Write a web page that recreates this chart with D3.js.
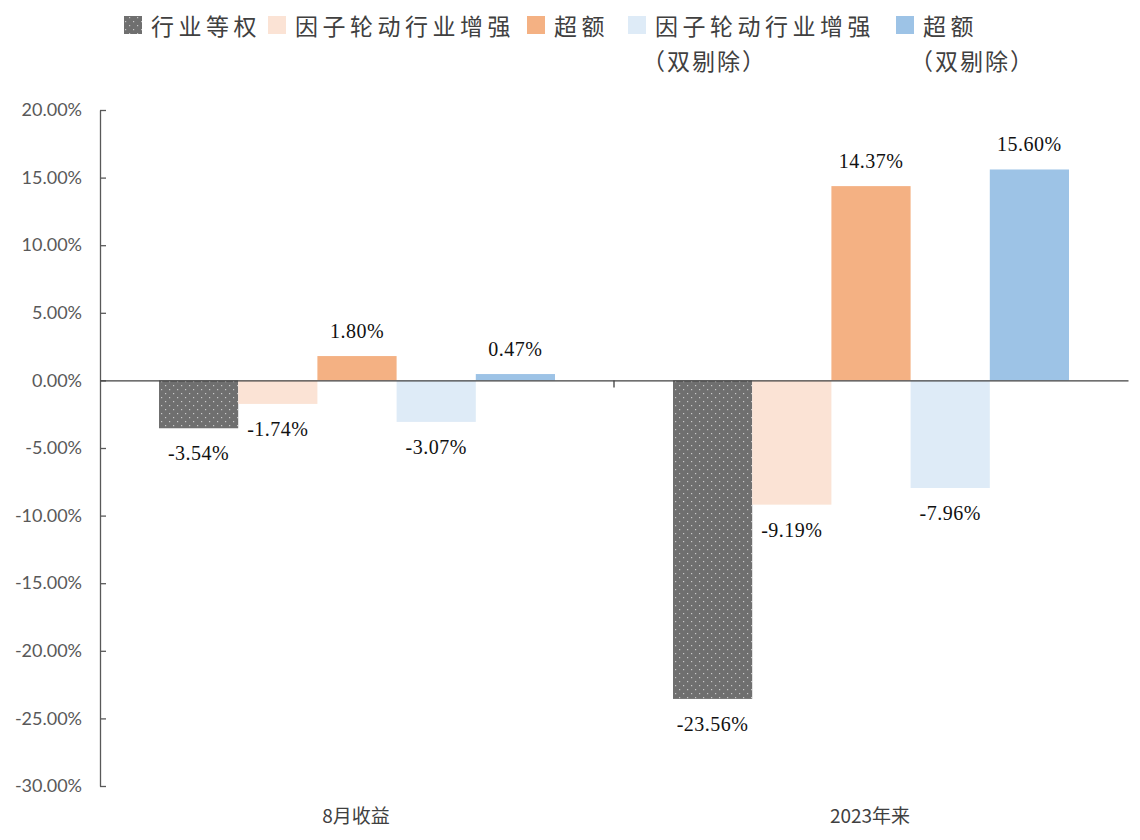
<!DOCTYPE html>
<html><head><meta charset="utf-8">
<script src="https://cdn.jsdelivr.net/npm/d3@7"></script>
<style>body{margin:0;background:#fff;}</style>
</head><body>
<svg id="c" width="1140" height="840"></svg>
<script>
const categories = ["8月收益", "2023年来"];
const seriesNames = ["行业等权", "因子轮动行业增强", "超额", "因子轮动行业增强\n(双剔除)", "超额\n(双剔除)"];
const seriesKeys = ["s1","s2","s3","s4","s5"];
const values = {
  s1: [-3.54, -23.56],
  s2: [-1.74, -9.19],
  s3: [1.80, 14.37],
  s4: [-3.07, -7.96],
  s5: [0.47, 15.60]
};
const colors = ["#6f6f6f", "#fbe3d5", "#f4b183", "#deebf7", "#9dc3e6"];
const yTicks = [20, 15, 10, 5, 0, -5, -10, -15, -20, -25, -30];

(function(){
const svg = d3.select("#c");
const defs = svg.append("defs");
const pat = defs.append("pattern").attr("id","dots").attr("patternUnits","userSpaceOnUse")
  .attr("width",8).attr("height",8);
pat.append("rect").attr("width",8).attr("height",8).attr("fill","#6f6f6f");
pat.append("rect").attr("x",1).attr("y",1).attr("width",1.2).attr("height",1.2).attr("fill","#c8c8c8");
pat.append("rect").attr("x",5).attr("y",5).attr("width",1.2).attr("height",1.2).attr("fill","#c8c8c8");

const mLeft = 100, mRight = 1128, mTop = 110, mBottom = 786;
const y = d3.scaleLinear().domain([-30, 20]).range([mBottom, mTop]);
const x0 = d3.scaleBand().domain(categories).range([mLeft, mRight]).padding(0);
const x1 = d3.scaleBand().domain(seriesKeys).range([0, x0.bandwidth()]).paddingInner(0).paddingOuter(0.745);

// y axis
const yAxis = d3.axisLeft(y).tickValues(yTicks).tickSize(0).tickPadding(18)
  .tickFormat(d => d.toFixed(2) + "%");
const gy = svg.append("g").attr("transform", `translate(${mLeft},0)`).call(yAxis);
gy.select(".domain").attr("stroke", "#595959").attr("stroke-width", 1.3);
gy.selectAll("text").attr("font-family", "Lato, 'Open Sans', sans-serif").attr("font-size", 18).attr("fill", "#595959");
gy.selectAll(".tick").append("line").attr("x1", 0).attr("x2", 6).attr("stroke", "#595959").attr("stroke-width", 1.3);

// bars
const groups = svg.append("g").selectAll("g").data(categories).join("g")
  .attr("transform", d => `translate(${x0(d)},0)`);
seriesKeys.forEach((k, si) => {
  groups.append("rect")
    .attr("x", x1(k))
    .attr("width", x1.bandwidth())
    .attr("y", (d, i) => y(Math.max(0, values[k][i])))
    .attr("height", (d, i) => Math.abs(y(values[k][i]) - y(0)))
    .attr("fill", si === 0 ? "url(#dots)" : colors[si]);
});
// labels
seriesKeys.forEach((k, si) => {
  groups.append("text")
    .attr("x", x1(k) + x1.bandwidth() / 2)
    .attr("y", (d, i) => values[k][i] >= 0 ? y(values[k][i]) - 18 : y(values[k][i]) + 32)
    .attr("text-anchor", "middle")
    .attr("font-family", "'Liberation Serif', 'Times New Roman', serif")
    .attr("font-size", 20).attr("letter-spacing", 0.5)
    .attr("fill", "#111")
    .text((d, i) => values[k][i].toFixed(2) + "%");
});

// x axis at zero
const xAxis = d3.axisBottom(x0).tickSize(0).tickFormat("");
const gx = svg.append("g").attr("transform", `translate(0,${y(0)})`).call(xAxis);
gx.select(".domain").attr("stroke", "#404040").attr("stroke-width", 1.3);
const boundaries = [x0.range()[0] + x0.step()];
gx.selectAll(".sep").data(boundaries).join("line").attr("class","sep")
  .attr("x1", d => d).attr("x2", d => d).attr("y1", 0).attr("y2", 7)
  .attr("stroke", "#404040").attr("stroke-width", 1.3);

// category labels at bottom
svg.append("g").selectAll("text").data(categories).join("text")
  .attr("x", d => x0(d) + x0.bandwidth() / 2 - 1)
  .attr("y", 823)
  .attr("text-anchor", "middle")
  .attr("font-family", "'Noto Sans CJK SC', sans-serif")
  .attr("font-size", 19).attr("fill", "#404040")
  .text(d => d);

// legend
const legendX = [124, 268, 527, 628, 896];
const lg = svg.append("g");
seriesNames.forEach((name, i) => {
  lg.append("rect").attr("x", legendX[i]).attr("y", 16).attr("width", 18).attr("height", 18)
    .attr("fill", i === 0 ? "url(#dots)" : colors[i]);
  const lines = name.split("\n");
  lines.forEach((ln, j) => {
    const isParen = ln.startsWith("(");
    lg.append("text")
      .attr("x", legendX[i] + (isParen ? 26 : 27))
      .attr("y", 35 + j * 35)
      .attr("font-family", "'Noto Sans CJK SC', sans-serif")
      .attr("font-size", 23).attr("letter-spacing", isParen ? 2 : 4.5)
      .attr("fill", "#404040")
      .text(isParen ? "（" + ln.slice(1, -1) + "）" : ln)
      .attr("dx", isParen ? -12 : 0);
  });
});
})();
</script>
</body></html>
